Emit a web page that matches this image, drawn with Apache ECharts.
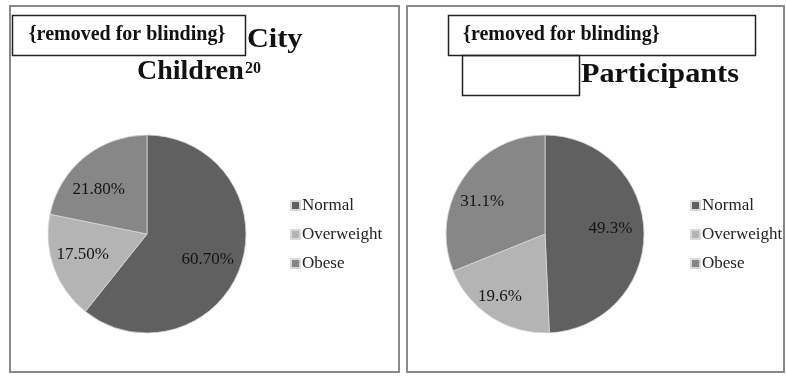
<!DOCTYPE html>
<html>
<head>
<meta charset="utf-8">
<script src="https://cdn.jsdelivr.net/npm/echarts@6/dist/echarts.min.js"></script>
<style>
html,body{margin:0;padding:0;background:#fff;}
#main{width:786px;height:376px;}
</style>
</head>
<body>
<div id="main"></div>
<script>
// ---- data ----
const categories = ['Normal', 'Overweight', 'Obese'];
const cityValues = [60.7, 17.5, 21.8];
const participantValues = [49.3, 19.6, 31.1];
const colors = ['#606060', '#b4b4b4', '#878787'];
// small label nudges (styling only, pixels)
const cityLabelNudge = [[-4, 3], [0, -3], [-5, 9]];
const participantLabelNudge = [[-3, -4], [-8, 5], [-6, 6]];

const font = '"Liberation Serif", "Times New Roman", serif';

function toData(vals, nudges) {
  return categories.map((c, i) => {
    const d = { name: c, value: vals[i] };
    if (nudges) d.label = { offset: nudges[i] };
    return d;
  });
}

function pieSeries(center, vals) {
  return {
    type: 'pie', center: center, radius: 99, startAngle: 90, clockwise: true,
    data: toData(vals), label: { show: false }, labelLine: { show: false },
    itemStyle: { borderColor: '#d8d8d8', borderWidth: 0.8 },
    emphasis: { disabled: true }, silent: true
  };
}
function labelSeries(center, vals, digits, nudges) {
  return {
    type: 'pie', center: center, radius: [32, 99], startAngle: 90, clockwise: true,
    data: toData(vals, nudges),
    itemStyle: { color: 'rgba(0,0,0,0)' },
    label: {
      show: true, position: 'inside', color: '#151515',
      fontFamily: font, fontSize: 17,
      formatter: p => p.value.toFixed(digits) + '%'
    },
    labelLine: { show: false }, emphasis: { disabled: true }, silent: true
  };
}
function legend(left) {
  return {
    orient: 'vertical', left: left, top: 197, padding: 0,
    icon: 'rect', itemWidth: 9, itemHeight: 9, itemGap: 12,
    data: categories,
    textStyle: { fontFamily: font, fontSize: 17, color: '#222', lineHeight: 17, padding: [0, 0, 0, -3] },
    selectedMode: false
  };
}

const chart = echarts.init(document.getElementById('main'), null, { renderer: 'canvas' });
chart.setOption({
  animation: false,
  color: colors,
  legend: [legend(290), legend(690)],
  series: [
    pieSeries([147, 234], cityValues),
    labelSeries([147, 234], cityValues, 2, cityLabelNudge),
    pieSeries([545, 234], participantValues),
    labelSeries([545, 234], participantValues, 1, participantLabelNudge)
  ],
  graphic: [
    // panel borders
    { type: 'rect', shape: { x: 10, y: 6, width: 389, height: 366 }, style: { fill: 'none', stroke: '#8a8a8a', lineWidth: 2 }, silent: true },
    { type: 'rect', shape: { x: 407, y: 6, width: 377, height: 366 }, style: { fill: 'none', stroke: '#8a8a8a', lineWidth: 2 }, silent: true },
    // blinding boxes
    { type: 'rect', shape: { x: 12.5, y: 15.5, width: 233, height: 40 }, style: { fill: 'none', stroke: '#222', lineWidth: 1.5 }, silent: true },
    { type: 'rect', shape: { x: 448.5, y: 15.5, width: 307, height: 40 }, style: { fill: 'none', stroke: '#222', lineWidth: 1.5 }, silent: true },
    { type: 'rect', shape: { x: 462.5, y: 55.5, width: 117, height: 40 }, style: { fill: 'none', stroke: '#222', lineWidth: 1.5 }, silent: true },
    // title texts
    { type: 'text', x: 127, y: 35, style: { text: '{removed for blinding}', font: 'bold 20px ' + font, fill: '#111', textAlign: 'center', textVerticalAlign: 'middle' }, silent: true },
    { type: 'text', x: 247, y: 54, scaleX: 1.08, style: { text: 'City', font: 'bold 28px ' + font, fill: '#111', textAlign: 'left', textVerticalAlign: 'bottom' }, silent: true },
    { type: 'text', x: 137, y: 86, style: { text: 'Children', font: 'bold 28px ' + font, fill: '#111', textAlign: 'left', textVerticalAlign: 'bottom' }, silent: true },
    { type: 'text', x: 245, y: 77, style: { text: '20', font: 'bold 16px ' + font, fill: '#111', textAlign: 'left', textVerticalAlign: 'bottom' }, silent: true },
    { type: 'text', x: 463, y: 35, style: { text: '{removed for blinding}', font: 'bold 20px ' + font, fill: '#111', textAlign: 'left', textVerticalAlign: 'middle' }, silent: true },
    { type: 'text', x: 581, y: 89, scaleX: 1.08, style: { text: 'Participants', font: 'bold 28px ' + font, fill: '#111', textAlign: 'left', textVerticalAlign: 'bottom' }, silent: true }
  ]
});
</script>
</body>
</html>
